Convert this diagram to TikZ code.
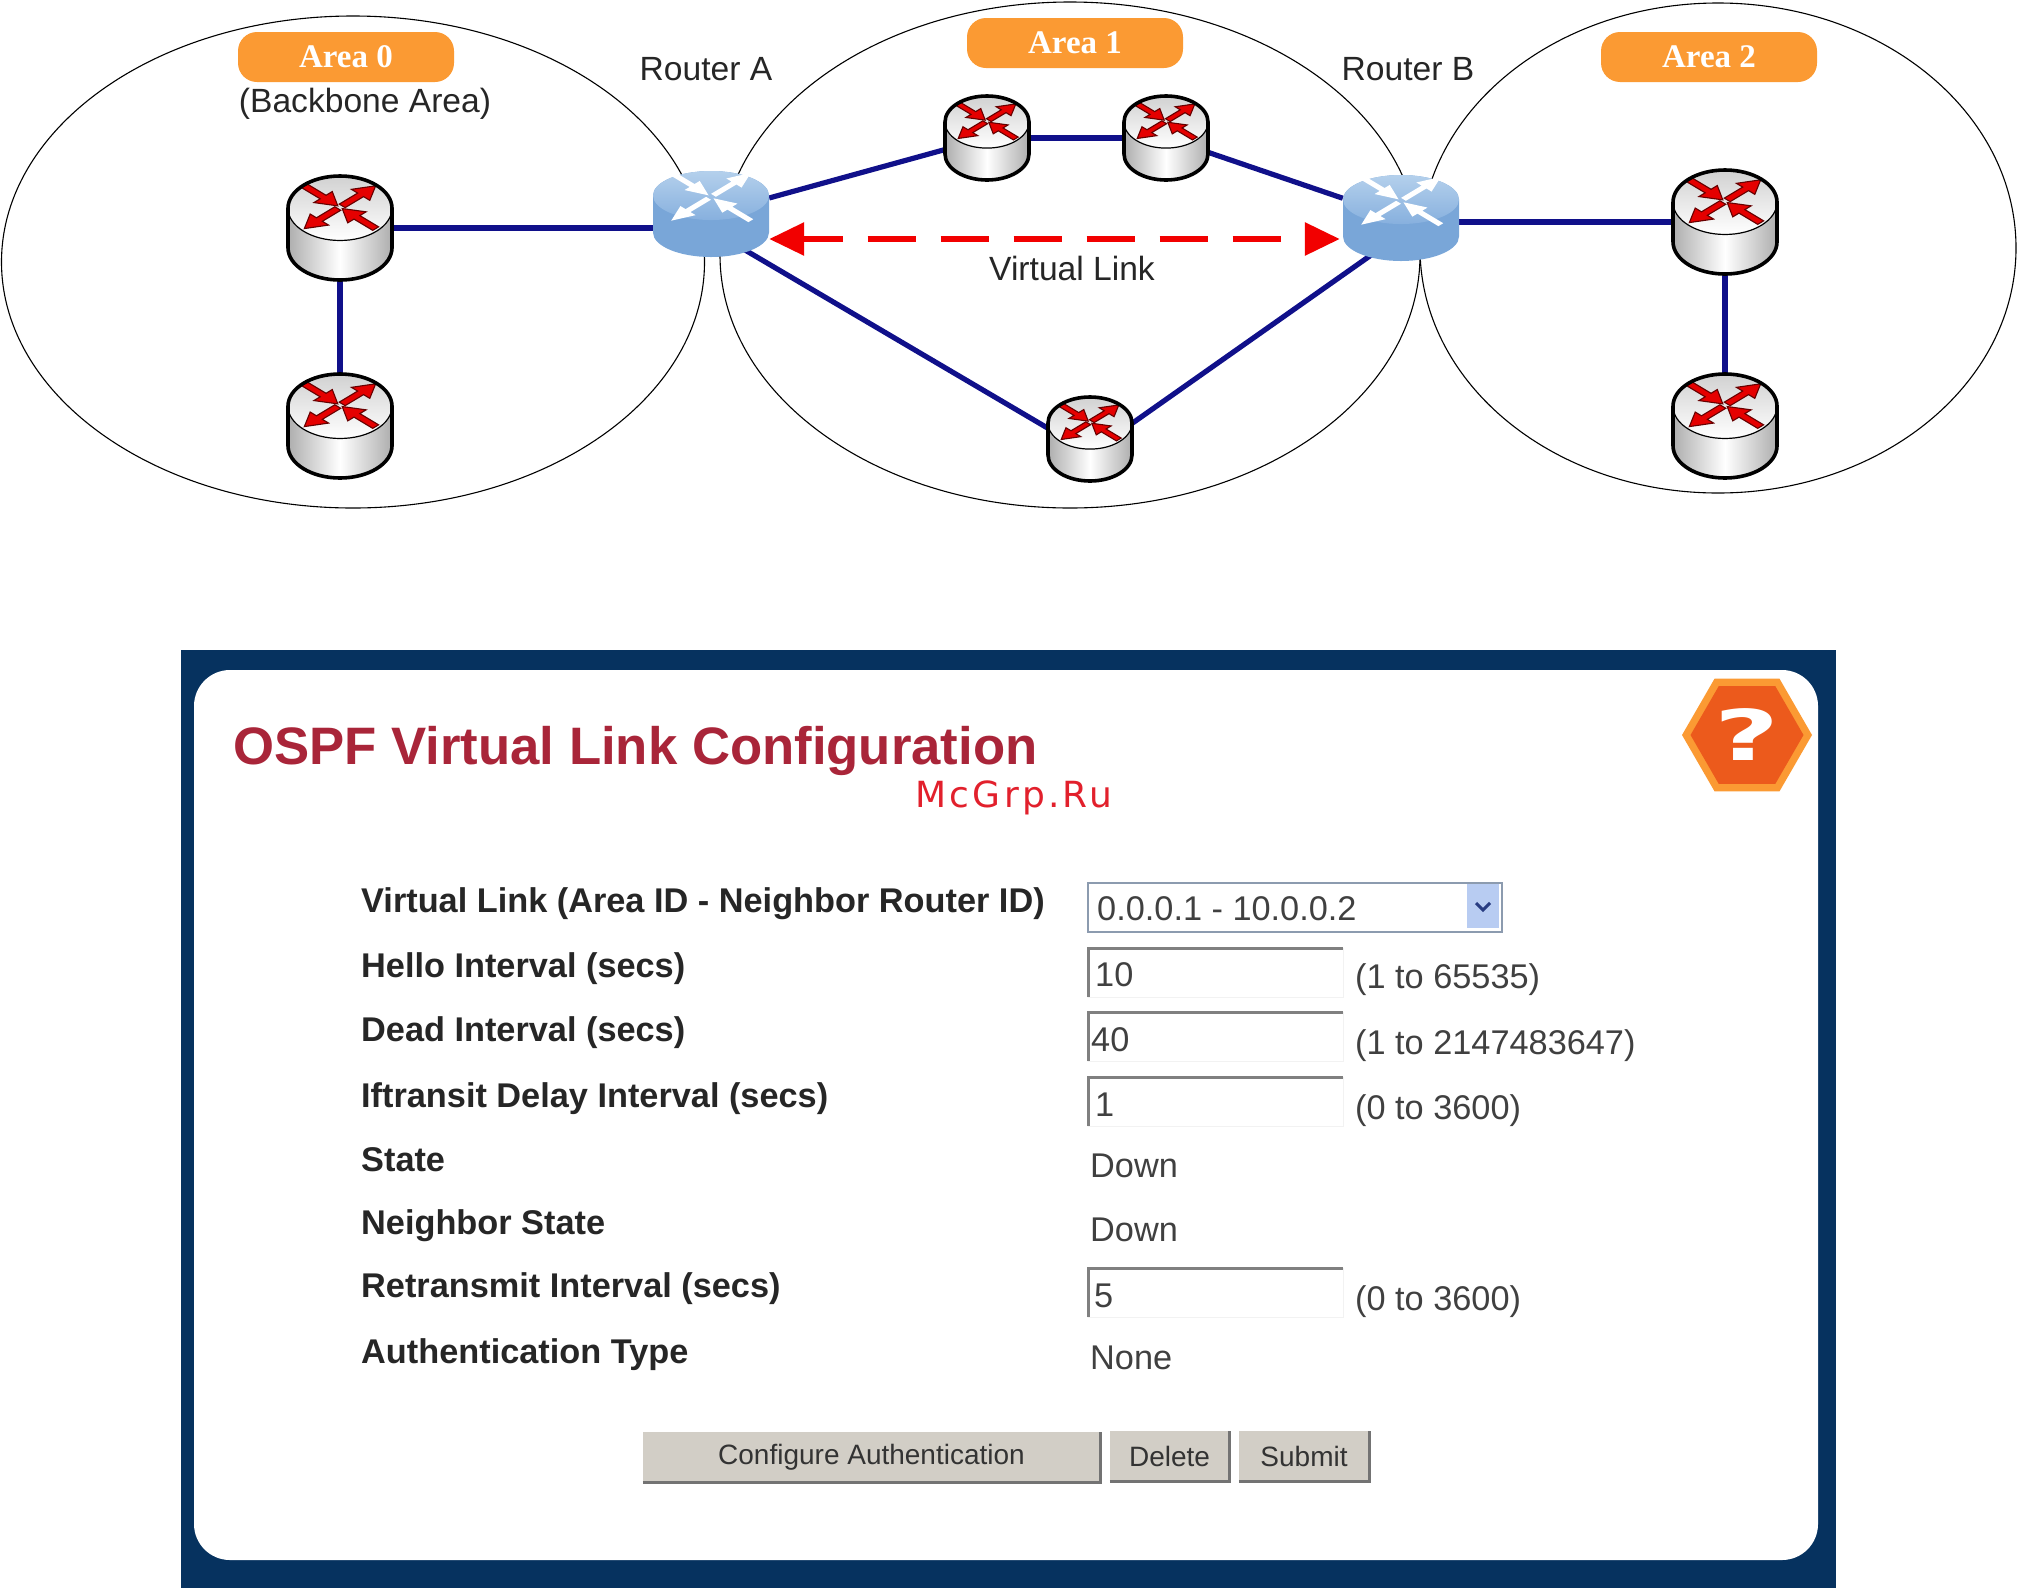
\documentclass[tikz,border=0pt]{standalone}
\usepackage{fontspec}
\setmainfont{Liberation Sans}
\newfontfamily\areafont{Liberation Serif}
\newfontfamily\helpfont{DejaVu Sans}
\newfontfamily\markfont[LetterSpace=9]{DejaVu Sans}
\usetikzlibrary{arrows.meta,shapes.geometric}
\definecolor{linkblue}{HTML}{10108A}
\definecolor{areaorange}{HTML}{FB9A33}
\definecolor{panelblue}{HTML}{06325F}
\definecolor{titlered}{HTML}{A92539}
\definecolor{btngray}{HTML}{D2CEC6}
\definecolor{coreside}{HTML}{79A6D8}
\definecolor{coretop}{HTML}{B4D0EC}
\definecolor{corelow}{HTML}{87B0DE}
\definecolor{markred}{HTML}{E2202C}
\definecolor{helpcore}{HTML}{EC5A1C}
\definecolor{selectedge}{HTML}{8C9BAF}
\definecolor{dropfill}{HTML}{B8CCF2}
\definecolor{dropmark}{HTML}{283C82}
\newcommand{\routerarrows}[1]{%
  \begin{scope}[shift={(0,.4)},yscale=.6]
    \foreach \rdir in {45,225}
      \path[#1,rotate=\rdir] (.06,-.08) -- (.56,-.08) -- (.56,-.25) -- (.97,0) -- (.56,.25) -- (.56,.08) -- (.06,.08) -- cycle;
    \foreach \rdir in {135,315}
      \path[#1,rotate=\rdir] (.97,-.08) -- (.46,-.08) -- (.46,-.25) -- (.06,0) -- (.46,.25) -- (.46,.08) -- (.97,.08) -- cycle;
  \end{scope}}
\begin{document}
\begin{tikzpicture}[x=1pt,y=-1pt,
    areazone/.style={ellipse,draw,line width=1.1pt,inner sep=0pt},
    areatag/.style={rounded corners=19pt,fill=areaorange,text=white,minimum width=216pt,minimum height=50pt,
      font=\areafont\fontsize{33}{36}\selectfont\bfseries},
    nettext/.style={font=\fontsize{33.6}{38}\selectfont,text=black!85},
    routerbox/.style={minimum width=2*#1,minimum height=2*#1,inner sep=0pt},
    corebox/.style={minimum width=116pt,minimum height=86pt,inner sep=0pt},
    netlink/.style={linkblue,line width=5.2pt},
    formlabel/.style={anchor=base west,inner sep=0pt,font=\fontsize{34.3}{38}\selectfont\bfseries,text=black!85},
    formvalue/.style={anchor=base west,inner sep=0pt,font=\fontsize{34.3}{38}\selectfont,text=black!75},
    fieldbox/.style={anchor=north west,minimum width=255pt,minimum height=49pt,inner sep=0pt,fill=white,draw=black!5},
    fieldedge/.style={black!50,line width=3pt},
    btnbox/.style={minimum height=50pt,inner sep=0pt,fill=btngray,text=black!80,font=\fontsize{28}{32}\selectfont},
    btnedge/.style={black!55,line width=2.6pt}]
  \useasboundingbox (0,0) rectangle (2017,1588);

  \node (area0) at (353,262) [areazone,minimum width=703pt,minimum height=492pt] {};
  \node (area1) at (1070,255) [areazone,minimum width=700pt,minimum height=506pt] {};
  \node (area2) at (1718,248) [areazone,minimum width=596pt,minimum height=490pt] {};

  \node (tag0) at (346,57) [areatag] {Area 0};
  \node (tag1) at (1075,43) [areatag] {Area 1};
  \node (tag2) at (1709,57) [areatag] {Area 2};

  \node (backbone) at (365,104) [nettext] {(Backbone Area)};
  \node (nameA) at (706,69) [nettext] {Router A};
  \node (nameB) at (1408,69) [nettext] {Router B};
  \node (vlname) at (1072,268) [nettext] {Virtual Link};

  \foreach \rname/\rx/\ry/\rsize in {r0a/340/228/52,r0b/340/426/52,r1a/987/138/42,r1b/1166/138/42,
      r1c/1090/439/42,r2a/1725/222/52,r2b/1725/426/52}
    \node (\rname) at (\rx,\ry) [routerbox=\rsize pt] {};
  \node (coreA) at (711,214) [corebox] {};
  \node (coreB) at (1401,218) [corebox] {};

  \draw[netlink] (r0a) -- (r0a -| coreA);
  \draw[netlink] (r0a) -- (r0b);
  \draw[netlink] (coreA) -- (r1a);
  \draw[netlink] (r1a) -- (r1b);
  \draw[netlink] (r1b) -- (coreB);
  \draw[netlink] ([yshift=-16pt]coreA.center) -- ([yshift=-14pt]r1c.center);
  \draw[netlink] ([yshift=-14pt]r1c.center) -- ([yshift=-16pt]coreB.center);
  \draw[netlink] (r2a) -- (r2a -| coreB);
  \draw[netlink] (r2a) -- (r2b);

  \foreach \rname/\rsize in {r0a/52,r0b/52,r1a/42,r1b/42,r1c/42,r2a/52,r2b/52} {
    \begin{scope}[shift={(\rname)},x=\rsize pt,y=\rsize pt]
      \path[left color=black!32,right color=black!32,middle color=white]
        (-1,.38) -- (-1,-.38) arc[start angle=180,end angle=360,x radius=1,y radius=.62] -- (1,.38)
        arc[start angle=0,end angle=180,x radius=1,y radius=.62];
      \draw[top color=black!18,bottom color=white,line width=1.2pt] (0,.38) circle[x radius=1,y radius=.62];
      \routerarrows{fill=red!90!black,draw=black!60!red,line width=1.1pt}
      \draw[line width=3.6pt] (-1,.38) -- (-1,-.38) arc[start angle=180,end angle=360,x radius=1,y radius=.62]
        -- (1,.38) arc[start angle=0,end angle=180,x radius=1,y radius=.62];
    \end{scope}}

  \foreach \rname in {coreA,coreB} {
    \begin{scope}[shift={(\rname)},x=58pt,y=43pt]
      \path[fill=coreside]
        (-1,.43) -- (-1,-.43) arc[start angle=180,end angle=360,x radius=1,y radius=.57] -- (1,.43)
        arc[start angle=0,end angle=180,x radius=1,y radius=.57];
      \path[top color=coretop,bottom color=corelow] (0,.43) circle[x radius=1,y radius=.57];
      \routerarrows{fill=white}
    \end{scope}}

  \draw[red!95!black,line width=6pt,dash pattern=on 48pt off 25pt,dash phase=8pt,{Triangle[length=35pt,width=32pt]}-{Triangle[length=35pt,width=32pt]}]
    ([yshift=-25pt]coreA.east) -- ([xshift=-3pt,yshift=-21pt]coreB.west);

  \node (outerpanel) at (1008.5,1119) [minimum width=1655pt,minimum height=938pt,inner sep=0pt,fill=panelblue] {};
  \node (innerpanel) at (1006,1115) [minimum width=1624pt,minimum height=890pt,inner sep=0pt,fill=white,rounded corners=36pt] {};

  \node (title) at (233,751) [anchor=west,inner sep=0pt,text=titlered,font=\fontsize{52.7}{58}\selectfont\bfseries] {OSPF Virtual Link Configuration};
  \node (mark) at (1014,798) [text=markred,font=\markfont\fontsize{36}{40}\selectfont] {McGrp.Ru};

  \node (helpout) at (1747,735) [regular polygon,regular polygon sides=6,minimum size=130pt,inner sep=0pt,fill=areaorange] {};
  \node (helpin) at (1747,735) [regular polygon,regular polygon sides=6,minimum size=113pt,inner sep=0pt,fill=helpcore] {};
  \node (helpmark) at (1747,735) [xscale=1.6,transform shape,text=white,font=\helpfont\fontsize{70}{74}\selectfont\bfseries] {?};

  \node (lbllink) at (361,912) [formlabel] {Virtual Link (Area ID - Neighbor Router ID)};
  \node (lblhello) at (361,977) [formlabel] {Hello Interval (secs)};
  \node (lbldead) at (361,1041) [formlabel] {Dead Interval (secs)};
  \node (lbldelay) at (361,1107) [formlabel] {Iftransit Delay Interval (secs)};
  \node (lblstate) at (361,1171) [formlabel] {State};
  \node (lblneigh) at (361,1234) [formlabel] {Neighbor State};
  \node (lblretr) at (361,1297) [formlabel] {Retransmit Interval (secs)};
  \node (lblauth) at (361,1363) [formlabel] {Authentication Type};

  \node (linkbox) at (1087,882) [anchor=north west,minimum width=414pt,minimum height=49pt,inner sep=0pt,fill=white,draw=selectedge,line width=2pt] {};
  \node (dropbtn) at (1483,906) [minimum width=32pt,minimum height=44pt,inner sep=0pt,fill=dropfill] {};
  \draw[dropmark,line width=3pt] ([xshift=-7pt,yshift=3pt]dropbtn.center) -- ([yshift=-4pt]dropbtn.center) -- ([xshift=7pt,yshift=3pt]dropbtn.center);
  \node (linkval) at (1097,920) [formvalue] {0.0.0.1 - 10.0.0.2};

  \foreach \fname/\fy in {boxhello/948,boxdead/1012,boxdelay/1077,boxretr/1268} {
    \node (\fname) at (1088,\fy) [fieldbox] {};
    \draw[fieldedge] (\fname.south west) -- (\fname.north west) -- (\fname.north east);}

  \node (valhello) at (1095,986) [formvalue] {10};
  \node (valdead) at (1091,1051) [formvalue] {40};
  \node (valdelay) at (1095,1116) [formvalue] {1};
  \node (valretr) at (1094,1307) [formvalue] {5};
  \node (rnghello) at (1355,988) [formvalue] {(1 to 65535)};
  \node (rngdead) at (1355,1054) [formvalue] {(1 to 2147483647)};
  \node (rngdelay) at (1355,1119) [formvalue] {(0 to 3600)};
  \node (rngretr) at (1355,1310) [formvalue] {(0 to 3600)};
  \node (valstate) at (1090,1177) [formvalue] {Down};
  \node (valneigh) at (1090,1241) [formvalue] {Down};
  \node (valauth) at (1090,1369) [formvalue] {None};

  \node (btnauth) at (871.5,1457) [btnbox,minimum width=457pt] {Configure Authentication};
  \node (btndel) at (1169.5,1456) [btnbox,minimum width=119pt] {Delete};
  \node (btnsub) at (1304,1456) [btnbox,minimum width=130pt] {Submit};
  \foreach \bname in {btnauth,btndel,btnsub}
    \draw[btnedge] (\bname.south west) -- (\bname.south east) -- (\bname.north east);
\end{tikzpicture}
\end{document}
